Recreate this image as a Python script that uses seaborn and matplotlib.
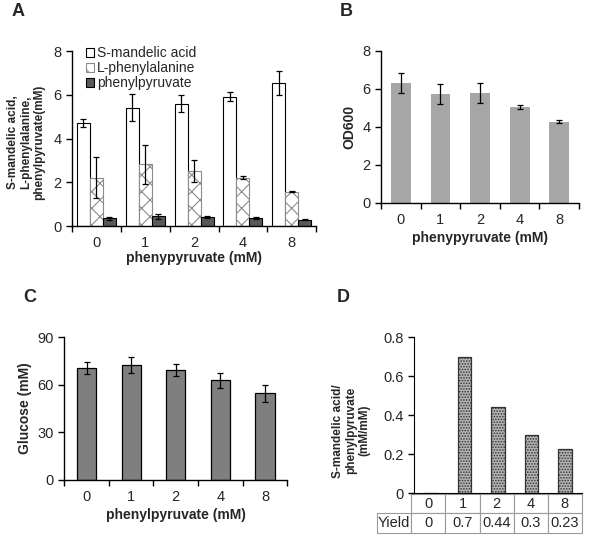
import numpy as np
import pandas as pd
import matplotlib
matplotlib.use("Agg")
import matplotlib.pyplot as plt
import seaborn as sns
from matplotlib.patches import Patch
from matplotlib.ticker import FuncFormatter, FixedLocator

# ---------------- data ----------------
conc = ["0", "1", "2", "4", "8"]
compounds = ["S-mandelic acid", "L-phenylalanine", "phenylpyruvate"]
mandelic = [4.72, 5.42, 5.60, 5.92, 6.53]
mandelic_err = [0.20, 0.60, 0.40, 0.20, 0.55]
phe = [2.22, 2.82, 2.52, 2.22, 1.58]
phe_err = [0.92, 0.88, 0.52, 0.08, 0.03]
ppa = [0.35, 0.45, 0.40, 0.37, 0.30]
ppa_err = [0.08, 0.12, 0.05, 0.03, 0.04]

od600 = [6.30, 5.72, 5.80, 5.05, 4.28]
od600_err = [0.52, 0.52, 0.52, 0.12, 0.08]

glucose = [70.5, 72.5, 69.3, 62.7, 54.5]
glucose_err = [4.0, 5.0, 4.0, 4.5, 5.5]

yield_vals = [0.0, 0.70, 0.44, 0.30, 0.225]
yield_labels = ["0", "0.7", "0.44", "0.3", "0.23"]

# ---------------- style ----------------
sns.set_style("ticks")
plt.rcParams["font.family"] = ["Liberation Sans", "DejaVu Sans"]
plt.rcParams["hatch.linewidth"] = 0.8

fig = plt.figure(figsize=(6.0, 5.41), dpi=100)

def boundary_ticks(ax):
    ax.set_xlim(-0.5, 4.5)
    ax.xaxis.set_major_locator(FixedLocator(range(5)))
    ax.set_xticklabels(conc)
    ax.xaxis.set_minor_locator(FixedLocator(np.arange(-0.5, 5.0, 1.0)))
    ax.tick_params(axis="x", which="major", length=0, pad=7, labelsize=10.5)
    ax.tick_params(axis="x", which="minor", length=4, width=1, direction="out", color="black")
    ax.tick_params(axis="y", length=4, width=1, direction="out", labelsize=10.5, color="black")
    for s in ["left", "bottom"]:
        ax.spines[s].set_color("black")
        ax.spines[s].set_linewidth(1.0)
    sns.despine(ax=ax)

def add_err(ax, container, errs):
    xs = [b.get_x() + b.get_width() / 2 for b in container]
    ys = [b.get_height() for b in container]
    ax.errorbar(xs, ys, yerr=errs, fmt="none", ecolor="black", elinewidth=0.9,
                capsize=2.5, capthick=0.9, zorder=5)

# ---------------- Panel A ----------------
axA = fig.add_axes([0.12, 0.582, 0.407, 0.3235])
dfA = pd.DataFrame({
    "conc": conc * 3,
    "compound": np.repeat(compounds, 5),
    "value": mandelic + phe + ppa,
})
sns.barplot(data=dfA, x="conc", y="value", hue="compound", order=conc,
            hue_order=compounds, width=0.8, errorbar=None, ax=axA, legend=False,
            palette=["white", "white", "#595959"])
styles = [dict(fc="white", ec="black", hatch=None),
          dict(fc="white", ec="#8c8c8c", hatch="xx"),
          dict(fc="#595959", ec="black", hatch=None)]
for cont, st, errs in zip(axA.containers, styles, [mandelic_err, phe_err, ppa_err]):
    for b in cont:
        b.set_facecolor(st["fc"])
        b.set_edgecolor(st["ec"])
        b.set_linewidth(0.8)
        if st["hatch"]:
            b.set_hatch(st["hatch"])
    add_err(axA, cont, errs)
axA.set_ylim(0, 8)
axA.set_yticks([0, 2, 4, 6, 8])
boundary_ticks(axA)
axA.set_xlabel("phenypyruvate (mM)", fontsize=10, fontweight="bold", labelpad=1)
axA.set_ylabel("S-mandelic acid,\nL-phenylalanine,\nphenylpyruvate(mM)",
               fontsize=8.5, fontweight="bold", linespacing=1.12)
axA.yaxis.set_label_coords(-0.11, 0.48)
handles = [Patch(facecolor=st["fc"], edgecolor=st["ec"], hatch=st["hatch"], linewidth=0.8)
           for st in styles]
axA.legend(handles, compounds, loc="upper left", bbox_to_anchor=(0.035, 1.06),
           frameon=False, fontsize=10, handlelength=0.6, handleheight=0.6,
           handletextpad=0.2, labelspacing=0.08, borderaxespad=0)

# ---------------- Panel B ----------------
axB = fig.add_axes([0.635, 0.625, 0.33, 0.281])
sns.barplot(x=conc, y=od600, order=conc, color="#a6a6a6", width=0.5,
            errorbar=None, ax=axB, saturation=1)
for b in axB.containers[0]:
    b.set_edgecolor("none")
add_err(axB, axB.containers[0], od600_err)
axB.set_ylim(0, 8)
axB.set_yticks([0, 2, 4, 6, 8])
boundary_ticks(axB)
axB.set_xlabel("phenypyruvate (mM)", fontsize=10, fontweight="bold", labelpad=3)
axB.set_ylabel("OD600", fontsize=10, fontweight="bold", labelpad=4)

# ---------------- Panel C ----------------
axC = fig.add_axes([0.107, 0.1128, 0.372, 0.264])
sns.barplot(x=conc, y=glucose, order=conc, color="#7f7f7f", width=0.43,
            errorbar=None, ax=axC, saturation=1, edgecolor="black", linewidth=0.9)
add_err(axC, axC.containers[0], glucose_err)
axC.set_ylim(0, 90)
axC.set_yticks([0, 30, 60, 90])
boundary_ticks(axC)
axC.set_xlabel("phenylpyruvate (mM)", fontsize=10, fontweight="bold", labelpad=3)
axC.set_ylabel("Glucose (mM)", fontsize=10, fontweight="bold", labelpad=4)

# ---------------- Panel D ----------------
axD = fig.add_axes([0.69, 0.0887, 0.28, 0.288])
sns.barplot(x=conc, y=yield_vals, order=conc, color="#b5b5b5", width=0.41,
            errorbar=None, ax=axD, saturation=1, edgecolor="#333333", linewidth=0.9)
for b in axD.containers[0]:
    b.set_hatch("......")
axD.set_xlim(-0.5, 4.5)
axD.set_ylim(0, 0.8)
axD.set_yticks([0, 0.2, 0.4, 0.6, 0.8])
axD.yaxis.set_major_formatter(FuncFormatter(lambda v, p: "0" if v == 0 else f"{v:.1f}"))
axD.set_xticks([])
axD.tick_params(axis="y", length=4, width=1, direction="out", labelsize=10.5, color="black")
for s in ["left", "bottom"]:
    axD.spines[s].set_color("black")
sns.despine(ax=axD)
axD.set_xlabel("")
axD.set_ylabel("S-mandelic acid/\nphenylpyruvate\n(mM/mM)", fontsize=8.5,
               fontweight="bold", linespacing=1.12)
axD.yaxis.set_label_coords(-0.26, 0.40)
tbl = axD.table(cellText=[[""] + conc, ["Yield"] + yield_labels],
                cellLoc="center", bbox=[-0.22, -0.256, 1.22, 0.25])
tbl.auto_set_font_size(False)
tbl.set_fontsize(10.5)
for (r, c), cell in tbl.get_celld().items():
    cell.set_edgecolor("#9a9a9a")
    cell.set_linewidth(0.8)
    cell.PAD = 0.02
    if r == 0 and c == 0:
        cell.visible_edges = ""

# ---------------- panel letters ----------------
for lab, x, y in [("A", 18, 12), ("B", 346, 12), ("C", 30, 298), ("D", 343, 298)]:
    fig.text(x / 600, 1 - y / 541, lab, fontsize=13, fontweight="bold",
             ha="center", va="center")

fig.savefig("out.png", dpi=100, facecolor="white")
